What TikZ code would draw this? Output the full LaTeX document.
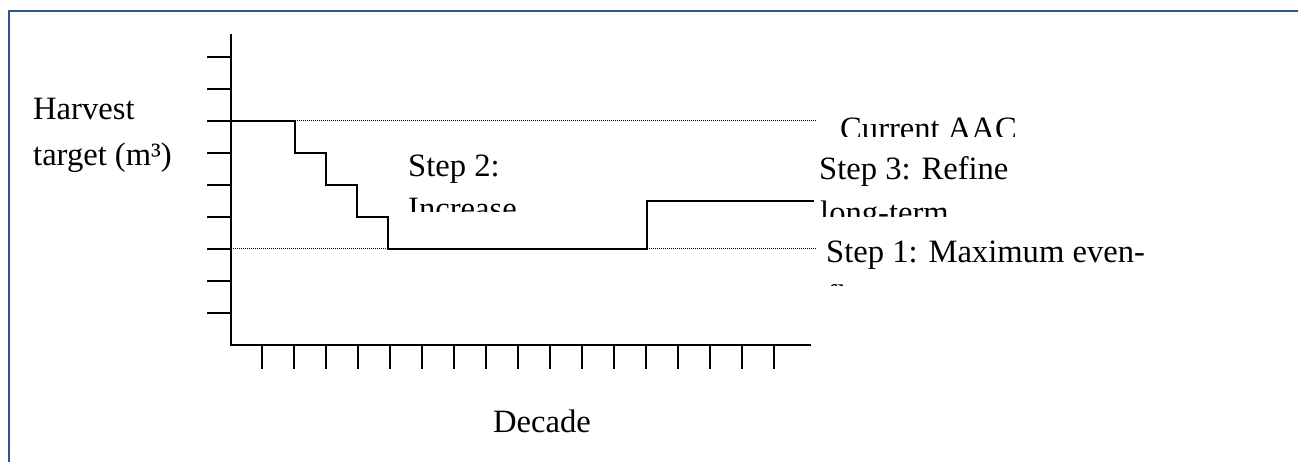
\documentclass[tikz,border=0pt]{standalone}
\usepackage{fontspec}
\setmainfont{Liberation Serif}
\definecolor{frameblue}{HTML}{2F5496}
\begin{document}
\begin{tikzpicture}[x=1pt,y=-1pt,
  axisline/.style={line width=2pt,line cap=rect},
  tickline/.style={line width=2pt},
  levelline/.style={line width=1pt,dash pattern=on 1pt off 1pt},
  stepline/.style={line width=2pt},
  lbl/.style={inner sep=0pt,anchor=base west,font=\fontsize{32.6}{44}\selectfont}]
\useasboundingbox (0,0) rectangle (1298,462);

% outer frame (top and left edges)
\draw[frameblue,line width=2pt] (9,462) -- (9,11) -- (1298,11);

% axes
\coordinate (ytop) at (231,35);
\coordinate (origin) at (231,345);
\coordinate (xend) at (810,345);
\draw[axisline] (ytop) -- (origin) -- (xend);

% ticks on the vertical axis
\foreach \y in {57,89,121,153,185,217,249,281,313}
  \draw[tickline] (207,\y) -- (231,\y);
% ticks below the horizontal axis
\foreach \k in {0,...,16}
  \draw[tickline] (262+32*\k,345) -- (262+32*\k,369);

% reference levels
\coordinate (aacL) at (231,121);
\coordinate (aacR) at (817,121);
\coordinate (evenL) at (231,249);
\coordinate (evenR) at (817,249);
\draw[levelline] (aacL) -- (aacR);
\draw[levelline] (evenL) -- (evenR);

% harvest schedule
\draw[stepline] (231,121) -- (295,121) -- (295,153) -- (326,153) -- (326,185)
  -- (357,185) -- (357,217) -- (388,217) -- (388,249) -- (647,249)
  -- (647,201) -- (814,201);

% axis labels
\node[lbl] (harvest) at (33,120) {Harvest};
\node[lbl] (target) at (33,166) {target (m³)};
\begin{scope}
  \clip (480,400) rectangle (620,433);
  \node[lbl] (decade) at (493,432) {Decade};
\end{scope}

% step labels (text boxes cut at their lower edge)
\node[lbl] (step2) at (408,177) {Step 2:};
\begin{scope}
  \clip (400,190) rectangle (560,212);
  \node[lbl] (incr) at (408,220) {Increase};
\end{scope}
\begin{scope}
  \clip (830,100) rectangle (1030,137);
  \node[lbl] (aac) at (840,140) {Current AAC};
\end{scope}
\node[lbl] (step3) at (819,180) {Step 3: Refine};
\begin{scope}
  \clip (815,195) rectangle (1000,217);
  \node[lbl] (longterm) at (820,224) {long-term};
\end{scope}
\node[lbl] (step1) at (826,263) {Step 1: Maximum even-};
\begin{scope}
  \clip (820,280) rectangle (900,286);
  \node[lbl] (flow) at (826,307) {flow};
\end{scope}
\end{tikzpicture}
\end{document}
